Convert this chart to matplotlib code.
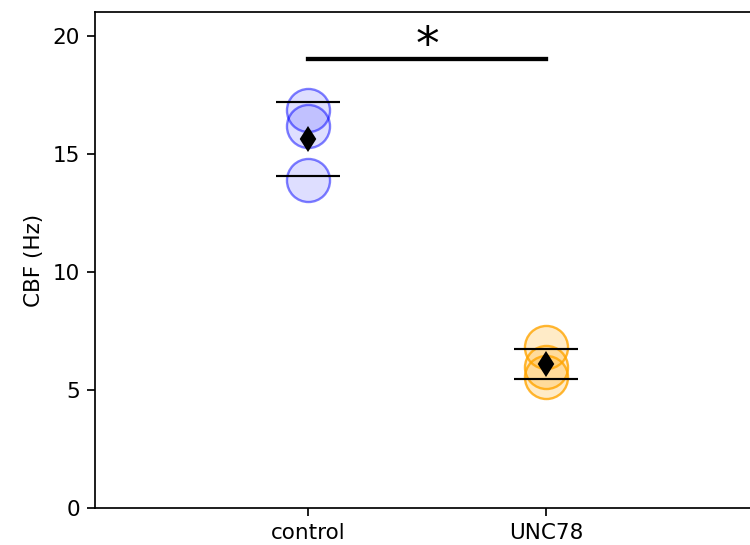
import numpy as np
import matplotlib
matplotlib.use("Agg")
import matplotlib.pyplot as plt
from matplotlib.colors import to_rgba

# Ciliary beat frequency per sample
groups = ["control", "UNC78"]
control_cbf = [16.84, 16.18, 13.87]
unc78_cbf = [6.81, 5.97, 5.54]
group_values = [control_cbf, unc78_cbf]
group_colors = ["blue", "orange"]
face_alpha = [0.13, 0.22]
edge_alpha = [0.5, 0.8]

sig_y = 19.0
sig_label = "*"

DPI = 155
fig = plt.figure(figsize=(750 / DPI, 545 / DPI), dpi=DPI)
ax = fig.add_axes([95 / 750, 37 / 545, (770 - 95) / 750, 496 / 545])

for i, (vals, col, fa, ea) in enumerate(zip(group_values, group_colors, face_alpha, edge_alpha)):
    vals = np.asarray(vals)
    x = np.full(len(vals), i, dtype=float)
    ax.scatter(x, vals, s=400, facecolor=to_rgba(col, fa),
               edgecolor=to_rgba(col, ea), linewidth=1.1, zorder=2)
    m = vals.mean()
    sd = vals.std(ddof=1)
    ax.hlines([m - sd, m + sd], i - 0.135, i + 0.135, colors="black",
              linewidth=1.0, zorder=3)
    ax.plot([i], [m], marker="d", color="black", markersize=7.5,
            linestyle="none", zorder=4)

# significance bracket
ax.plot([0, 1], [sig_y, sig_y], color="black", linewidth=2.0, zorder=3)
ax.text(0.5, sig_y - 0.42, sig_label, ha="center", va="bottom", fontsize=22)

ax.set_xlim(-0.895, -0.895 + (770 - 95) / 238)
ax.set_ylim(0, 21)
ax.set_xticks(range(len(groups)))
ax.set_xticklabels(groups)
ax.set_yticks([0, 5, 10, 15, 20])
ax.set_ylabel("CBF (Hz)")

fig.savefig("out.png", dpi=DPI)
